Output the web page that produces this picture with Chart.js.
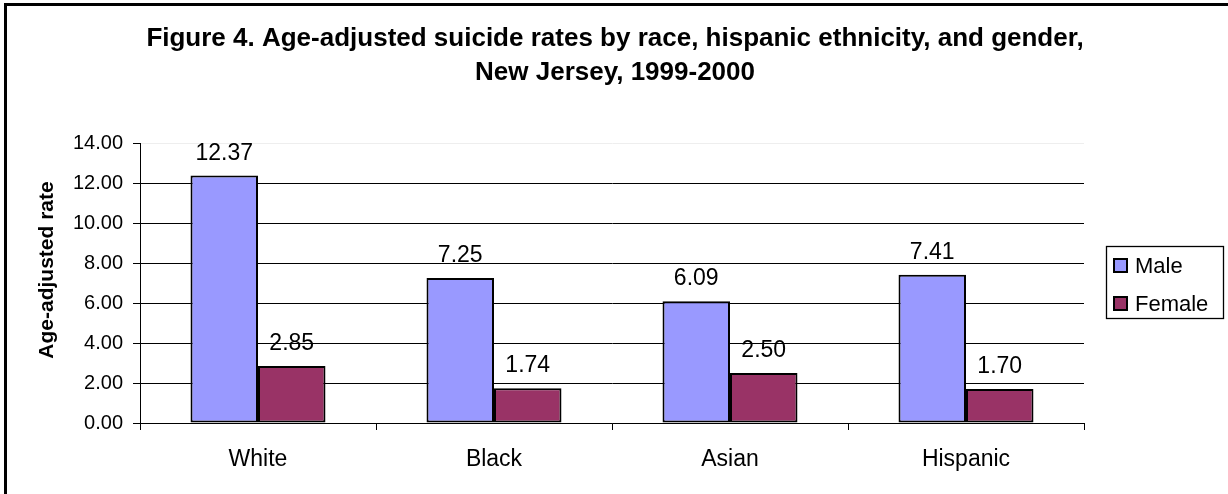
<!DOCTYPE html>
<html>
<head>
<meta charset="utf-8">
<script src="https://cdn.jsdelivr.net/npm/chart.js@4.4.1/dist/chart.umd.min.js"></script>
<style>
html,body{margin:0;padding:0;background:#fff;}
#wrap{position:relative;width:1228px;height:494px;}
</style>
</head>
<body>
<div id="wrap"><canvas id="c" width="1228" height="494"></canvas></div>
<script>
const categories = ['White', 'Black', 'Asian', 'Hispanic'];
const maleRates = [12.37, 7.25, 6.09, 7.41];
const femaleRates = [2.85, 1.74, 2.50, 1.70];
const seriesNames = ['Male', 'Female'];
const titleLines = ['Figure 4. Age-adjusted suicide rates by race, hispanic ethnicity, and gender,', 'New Jersey, 1999-2000'];
const yAxisTitle = 'Age-adjusted rate';
const yMin = 0, yMax = 14, yStep = 2;

const FONT = '"Liberation Sans", Arial, sans-serif';

const decorPlugin = {
  id: 'decor',
  beforeDraw(chart) {
    const ctx = chart.ctx;
    ctx.save();
    ctx.fillStyle = '#fff';
    ctx.fillRect(0, 0, chart.width, chart.height);
    ctx.restore();
  },
  afterDraw(chart) {
    const ctx = chart.ctx;
    ctx.save();
    // outer border (left + top visible)
    ctx.fillStyle = '#000';
    ctx.fillRect(4, 3, 3, chart.height - 3);
    ctx.fillRect(4, 3, chart.width - 4, 3);
    // title
    ctx.fillStyle = '#000';
    ctx.font = 'bold 26px ' + FONT;
    ctx.textAlign = 'center';
    ctx.textBaseline = 'alphabetic';
    ctx.fillText(titleLines[0], 615, 46);
    ctx.fillText(titleLines[1], 615, 80);
    // y axis title
    ctx.save();
    ctx.translate(53, 270);
    ctx.rotate(-Math.PI / 2);
    ctx.font = 'bold 21px ' + FONT;
    ctx.textAlign = 'center';
    ctx.fillText(yAxisTitle, 0, 0);
    ctx.restore();
    // legend
    ctx.lineWidth = 1.3;
    ctx.strokeStyle = '#000';
    ctx.strokeRect(1106.5, 246.5, 117, 72);
    ctx.font = '22px ' + FONT;
    ctx.textAlign = 'left';
    chart.data.datasets.forEach((ds, i) => {
      const top = 258 + i * 38;
      ctx.fillStyle = '#000';
      ctx.fillRect(1113, top, 15, 15);
      ctx.fillStyle = ds.backgroundColor;
      ctx.fillRect(1115, top + 2, 11, 11);
      ctx.fillStyle = '#000';
      ctx.fillText(ds.label, 1135, top + 15);
    });
    ctx.restore();
  },
  afterDatasetsDraw(chart) {
    const ctx = chart.ctx;
    ctx.save();
    ctx.fillStyle = '#000';
    ctx.font = '23px ' + FONT;
    ctx.textAlign = 'center';
    ctx.textBaseline = 'alphabetic';
    chart.data.datasets.forEach((ds, di) => {
      const meta = chart.getDatasetMeta(di);
      meta.data.forEach((bar, i) => {
        ctx.fillText(ds.data[i].toFixed(2), bar.x, bar.y - 16);
      });
    });
    ctx.restore();
  }
};

new Chart(document.getElementById('c'), {
  type: 'bar',
  data: {
    labels: categories,
    datasets: [
      { label: seriesNames[0], data: maleRates, backgroundColor: '#9999FF', borderColor: '#000', borderWidth: 2, borderSkipped: false },
      { label: seriesNames[1], data: femaleRates, backgroundColor: '#993366', borderColor: '#000', borderWidth: 2, borderSkipped: false }
    ]
  },
  options: {
    responsive: false,
    animation: false,
    devicePixelRatio: 1,
    layout: { padding: { top: 143, right: 144, bottom: 0, left: 0 } },
    plugins: { legend: { display: false }, title: { display: false }, tooltip: { enabled: false } },
    datasets: { bar: { categoryPercentage: 0.572, barPercentage: 1.0 } },
    scales: {
      x: {
        afterFit(scale) { scale.height = 71; },
        grid: { display: true, drawOnChartArea: false, drawTicks: true, tickLength: 7, color: '#000', offset: true },
        border: { display: true, color: '#000', width: 1 },
        ticks: { color: '#000', font: { family: FONT, size: 23 }, padding: 16, maxRotation: 0 }
      },
      y: {
        min: yMin, max: yMax,
        afterFit(scale) { scale.width = 140; },
        grid: {
          color: (c) => (c.tick && c.tick.value === yMax ? '#eeeeee' : '#000'),
          tickColor: '#000',
          lineWidth: 1,
          tickLength: 7,
          drawTicks: true
        },
        border: { display: true, color: '#000', width: 1 },
        ticks: {
          stepSize: yStep,
          color: '#000',
          padding: 10,
          font: { family: FONT, size: 20 },
          callback: (v) => Number(v).toFixed(2)
        }
      }
    }
  },
  plugins: [decorPlugin]
});
</script>
</body>
</html>
